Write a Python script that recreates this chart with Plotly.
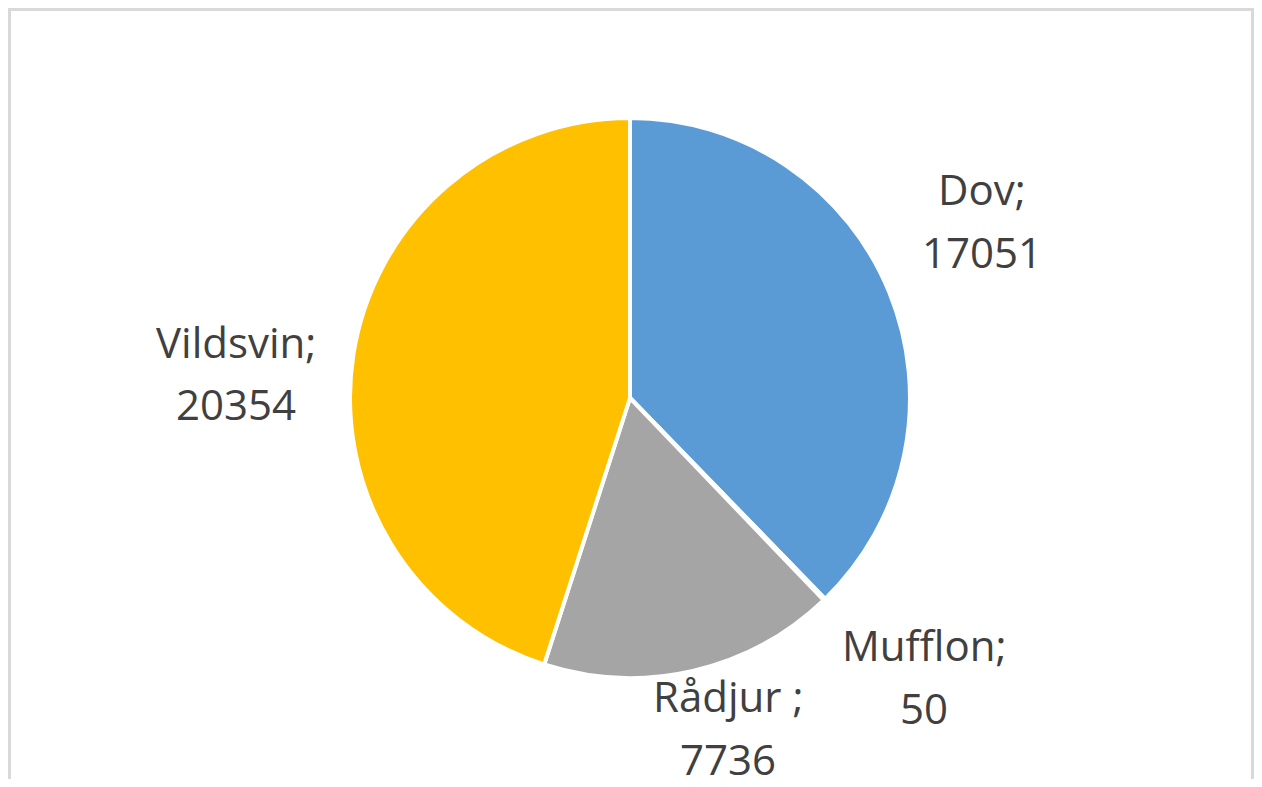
import plotly.graph_objects as go

# =============================================================================
# DATA
# =============================================================================

species = ["Dov", "Mufflon", "Rådjur ", "Vildsvin"]
counts = [17051, 50, 7736, 20354]
slice_colors = ["#5B9BD5", "#ED7D31", "#A5A5A5", "#FFC000"]

# label centre per slice in page pixels (name line; value line sits below)
label_px = [(982, 188), (924, 644), (728, 695), (236, 341)]

# page is 1262x787 but the browser body keeps an 8px margin
PAGE_MARGIN = 8
W, H = 1262 - 2 * PAGE_MARGIN, 787 - 2 * PAGE_MARGIN

# pie geometry in page pixels
cx, cy, r = 630, 398, 280


def px_x(x):
    return (x - PAGE_MARGIN) / W


def px_y(y):
    return 1 - (y - PAGE_MARGIN) / H


fig = go.Figure()

fig.add_trace(
    go.Pie(
        labels=species,
        values=counts,
        sort=False,
        direction="clockwise",
        rotation=0,
        textinfo="none",
        hoverinfo="label+value",
        marker=dict(
            colors=slice_colors,
            line=dict(color="#FFFFFF", width=4),
        ),
        domain=dict(
            x=[px_x(cx - r), px_x(cx + r)],
            y=[px_y(cy + r), px_y(cy - r)],
        ),
        showlegend=False,
    )
)

# data labels: "name;" on one line, value on the next
annotations = []
for name, value, (lx, ly) in zip(species, counts, label_px):
    for text, yy in [(f"{name};", ly), (str(value), ly + 63)]:
        annotations.append(
            dict(
                text=text,
                x=px_x(lx),
                y=px_y(yy),
                xref="paper",
                yref="paper",
                xanchor="center",
                yanchor="middle",
                showarrow=False,
                font=dict(family="Open Sans", size=42, color="#404040"),
            )
        )

fig.update_layout(
    width=W,
    height=H,
    margin=dict(l=0, r=0, t=0, b=0),
    paper_bgcolor="#FFFFFF",
    plot_bgcolor="#FFFFFF",
    annotations=annotations,
    shapes=[
        # chart area border (bottom edge falls outside the view)
        dict(
            type="rect",
            xref="paper",
            yref="paper",
            x0=px_x(9.5),
            x1=px_x(1252.5),
            y0=px_y(820),
            y1=px_y(9.5),
            line=dict(color="#D9D9D9", width=3),
            fillcolor="rgba(0,0,0,0)",
            layer="below",
        )
    ],
)

fig.write_html("out.html")
